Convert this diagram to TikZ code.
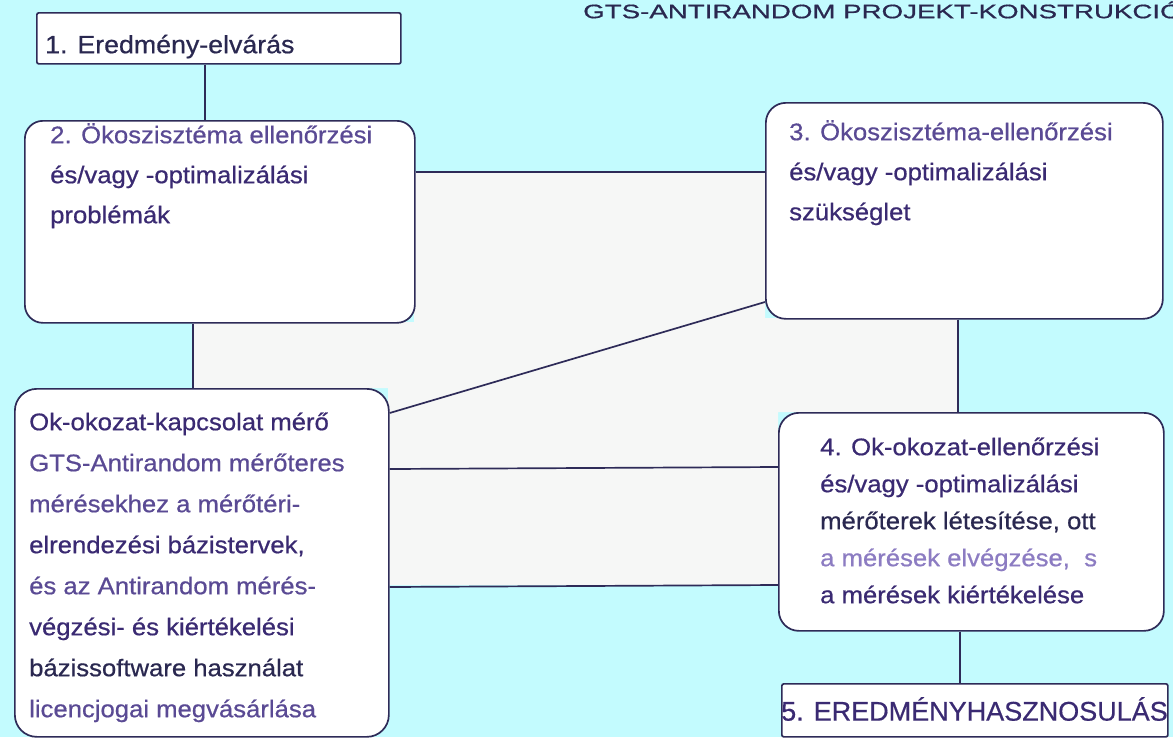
\documentclass[tikz,border=0pt]{standalone}
\usepackage{fontspec}
\setmainfont{Liberation Sans}[FakeBold=0.5]
\newfontfamily\boxfont{Liberation Sans}[FakeStretch=1.07,FakeBold=0.6]
\newfontfamily\titlefont{Liberation Sans}[FakeStretch=1.42,FakeBold=0.7]
\newfontfamily\plainfont{Liberation Sans}[FakeBold=0.5]
\usetikzlibrary{calc}
\definecolor{bgcyan}{HTML}{C3FBFE}
\definecolor{midwhite}{HTML}{F6F7F6}
\definecolor{linec}{HTML}{2E2B58}
\definecolor{tdark}{HTML}{3A2A72}
\definecolor{tmid}{HTML}{5A4A94}
\definecolor{tlight}{HTML}{8C7CC2}
\definecolor{tnavy}{HTML}{2A2850}
\newcommand{\fs}{\rule{0pt}{23pt}}
\begin{document}
\begin{tikzpicture}[x=1pt,y=-1pt,
  box/.style={draw=linec, line width=1.7pt, fill=white, inner sep=0pt, anchor=north west},
  rbox/.style={box, rounded corners=18pt},
  conn/.style={draw=linec, line width=1.7pt},
  txt/.style={inner sep=0pt, anchor=north west, align=left, text=tdark},
  bodytxt/.style={txt, font=\boxfont\fontsize{24}{40}\selectfont}]
\useasboundingbox (0,0) rectangle (1173,737);
\clip (0,0) rectangle (1173,737);
\fill[bgcyan] (0,0) rectangle (1173,737);
\fill[midwhite] (414,172) -- (765,172) -- (765,318) -- (958,318) -- (958,412) -- (778,412)
  -- (778,585) -- (388,585) -- (388,388) -- (193,388) -- (193,322) -- (414,322) -- cycle;

% title
\node[txt, text=tnavy, font=\titlefont\fontsize{19.5}{22}\selectfont] (title) at (583,-5)
  {\fs GTS-ANTIRANDOM PROJEKT-KONSTRUKCIÓ};

% boxes
\node[box, rounded corners=2pt, minimum width=364pt, minimum height=51pt] (box1) at (36,12) {};
\node[rbox, minimum width=390pt, minimum height=202pt] (box2) at (24,120) {};
\node[rbox, rounded corners=20pt, minimum width=397pt, minimum height=216pt] (box3) at (765,102) {};
\node[rbox, rounded corners=22pt, minimum width=374pt, minimum height=348pt] (boxok) at (14,388) {};
\node[rbox, rounded corners=20pt, minimum width=385pt, minimum height=218pt] (box4) at (778,412) {};
\node[box, rounded corners=2pt, minimum width=386pt, minimum height=53pt] (box5) at (781,683) {};

% connectors
\draw[conn] (box1.south -| 205,0) -- (box2.north -| 205,0);
\draw[conn] (box2.east |- 0,172) -- (box3.west |- 0,172);
\draw[conn] (box2.south -| 193,0) -- (boxok.north -| 193,0);
\draw[conn] (boxok.east |- 0,413) -- (box3.west |- 0,302);
\draw[conn] (boxok.east |- 0,469) -- (box4.west |- 0,467);
\draw[conn] (boxok.east |- 0,587) -- (box4.west |- 0,585);
\draw[conn] (box3.south -| 958,0) -- (box4.north -| 958,0);
\draw[conn] (box4.south -| 960,0) -- (box5.north -| 960,0);

% texts
\node[bodytxt, text=tnavy, font=\boxfont\fontsize{25}{40}\selectfont] (t1) at (45,30) {\fs 1. Eredmény-elvárás};
\node[bodytxt] (t2) at (50,120) {\fs\textcolor{tmid}{2. Ökoszisztéma ellenőrzési}\\
  és/vagy -optimalizálási\\ problémák};
\node[bodytxt] (t3) at (789,117) {\fs\textcolor{tmid}{3. Ökoszisztéma-ellenőrzési}\\
  és/vagy -optimalizálási\\ szükséglet};
\node[bodytxt, font=\boxfont\fontsize{24}{41}\selectfont] (tok) at (29,407) {\fs Ok-okozat-kapcsolat mérő\\
  \textcolor{tmid}{GTS-Antirandom mérőteres}\\
  \textcolor{tmid}{mérésekhez a mérőtéri-}\\
  elrendezési bázistervek,\\
  \textcolor{tmid}{és az Antirandom mérés-}\\
  végzési- és kiértékelési\\
  \textcolor{tnavy}{bázissoftware használat}\\
  \textcolor{tmid}{licencjogai megvásárlása}};
\node[bodytxt, font=\boxfont\fontsize{24}{37}\selectfont] (t4) at (820,432) {\fs 4. Ok-okozat-ellenőrzési\\
  és/vagy -optimalizálási\\
  \textcolor{tnavy}{mérőterek létesítése, ott}\\
  \textcolor{tlight}{a mérések elvégzése,\ \ s}\\
  a mérések kiértékelése};
\node[txt, font=\plainfont\fontsize{27}{30}\selectfont] (t5) at (781,697) {\fs 5. EREDMÉNYHASZNOSULÁS};
\end{tikzpicture}
\end{document}
